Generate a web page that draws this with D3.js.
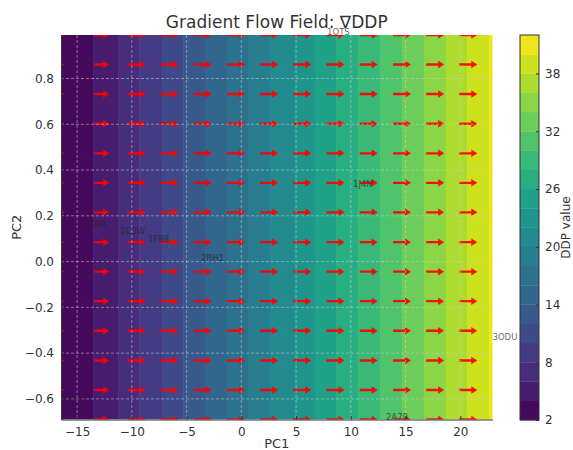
<!DOCTYPE html>
<html>
<head>
<meta charset="utf-8">
<script src="https://cdn.jsdelivr.net/npm/d3@7"></script>
<style>
  body { margin: 0; background: #fff; }
  text { font-family: "DejaVu Sans", sans-serif; }
</style>
</head>
<body>
<div id="chart"></div>
<script>
// Proteins projected on PC1/PC2 (they also set the axis extents)
const proteins = ['1OTS', '1J4N', '4DKL', '1C3W', '1F88', '2RH1', '3ODU', '2A79', '1C17'];
const proteinPC1 = [7.83, 10.20, -14.27, -11.08, -8.52, -3.68, 22.94, 13.21, -16.47];
const proteinPC2 = [0.99, 0.324, 0.150, 0.119, 0.084, 0.001, -0.344, -0.69, -0.628];

// DDP contour levels and the PC1 where the field crosses each level (bands are vertical)
const ddpLevels = [2, 4, 6, 8, 10, 12, 14, 16, 18, 20, 22, 24, 26, 28, 30, 32, 34, 36, 38, 40, 42];
const levelCrossPC1 = [-16.47, -13.52, -11.23, -9.32, -7.27, -5.30, -3.32, -1.33, 0.65, 2.62,
  4.81, 6.73, 8.65, 10.68, 12.67, 14.65, 16.68, 18.67, 20.64, 22.65, 24.6];

// Quiver grid and gradient (dDDP/dPC1 per column, dDDP/dPC2 is ~0)
const quiverX = [-16.47, -13.44, -10.41, -7.38, -4.34, -1.31, 1.72, 4.75, 7.78, 10.81, 13.85, 16.88, 19.91, 22.94];
const quiverY = [-0.69, -0.561, -0.432, -0.302, -0.173, -0.044, 0.085, 0.215, 0.344, 0.473, 0.602, 0.732, 0.861, 0.99];
const gradU = [0.17, 0.83, 1, 1, 1, 1, 1, 1, 1, 1, 1, 1, 1, 1];

// Tick labels
const xTicks = [-15, -10, -5, 0, 5, 10, 15, 20];
const yTicks = [-0.6, -0.4, -0.2, 0.0, 0.2, 0.4, 0.6, 0.8];
const cbarTicks = [2, 8, 14, 20, 26, 32, 38];

const W = 573, H = 450;
const plot = { left: 61, right: 492.5, top: 35, bottom: 419.5 };
const cbar = { left: 520, right: 539, top: 35, bottom: 420 };
const textColor = '#333';

const svg = d3.select('#chart').append('svg')
  .attr('width', W).attr('height', H)
  .style('display', 'block');

const x = d3.scaleLinear().domain(d3.extent(proteinPC1)).range([plot.left, plot.right]);
const y = d3.scaleLinear().domain(d3.extent(proteinPC2)).range([plot.bottom, plot.top]);
const colorOf = v => d3.interpolateViridis((v - ddpLevels[0]) / (ddpLevels[ddpLevels.length - 1] - ddpLevels[0]));

svg.append('clipPath').attr('id', 'plotClip')
  .append('rect')
  .attr('x', plot.left).attr('y', plot.top)
  .attr('width', plot.right - plot.left).attr('height', plot.bottom - plot.top);

const bands = d3.range(ddpLevels.length - 1).map(i => ({
  x0: levelCrossPC1[i], x1: levelCrossPC1[i + 1],
  mid: (ddpLevels[i] + ddpLevels[i + 1]) / 2
}));

// filled contour bands
svg.append('g').attr('clip-path', 'url(#plotClip)')
  .selectAll('rect')
  .data(bands)
  .enter()
  .append('rect')
  .attr('x', d => x(d.x0))
  .attr('y', plot.top)
  .attr('width', d => x(d.x1) - x(d.x0) + 0.5)
  .attr('height', plot.bottom - plot.top)
  .attr('fill', d => colorOf(d.mid));

// quiver arrows
const arrowScale = 18, shaftW = 2.4, headW = 7.5, headL = 6;
function arrowPath(len) {
  const k = Math.min(1, len / (headL * 1.6));
  const sw = shaftW * k, hw = headW * k, hl = headL * k;
  return `M0,${-sw / 2}L${len - hl},${-sw / 2}L${len - hl},${-hw / 2}L${len},0` +
    `L${len - hl},${hw / 2}L${len - hl},${sw / 2}L0,${sw / 2}Z`;
}
const arrows = [];
quiverY.forEach(py => quiverX.forEach((px, j) => arrows.push({ px, py, u: gradU[j] })));

svg.append('g').attr('clip-path', 'url(#plotClip)')
  .selectAll('path')
  .data(arrows)
  .enter()
  .append('path')
  .attr('transform', d => `translate(${x(d.px)},${y(d.py)})`)
  .attr('d', d => arrowPath(d.u * arrowScale))
  .attr('fill', '#ff0000')
  .attr('fill-opacity', 0.92);

// grid
const grid = svg.append('g')
  .attr('stroke', '#d0d0d0')
  .attr('stroke-opacity', 0.65)
  .attr('stroke-width', 0.8)
  .attr('stroke-dasharray', '3,2');
grid.selectAll('.gx').data(xTicks).enter().append('line')
  .attr('x1', d => x(d)).attr('x2', d => x(d))
  .attr('y1', plot.top).attr('y2', plot.bottom);
grid.selectAll('.gy').data(yTicks).enter().append('line')
  .attr('x1', plot.left).attr('x2', plot.right)
  .attr('y1', d => y(d)).attr('y2', d => y(d));

// protein labels
svg.append('g')
  .selectAll('text')
  .data(proteins)
  .enter()
  .append('text')
  .attr('x', (d, i) => x(proteinPC1[i]))
  .attr('y', (d, i) => y(proteinPC2[i]))
  .attr('font-size', 8.5)
  .attr('fill', '#222')
  .attr('fill-opacity', 0.7)
  .text(d => d);

// axes (ticks point inward)
const xAxis = svg.append('g')
  .attr('transform', `translate(0,${plot.bottom})`)
  .call(d3.axisBottom(x).tickValues(xTicks).tickFormat(d3.format('d')).tickSizeInner(-3.5).tickSizeOuter(0).tickPadding(8));
const yAxis = svg.append('g')
  .attr('transform', `translate(${plot.left},0)`)
  .call(d3.axisLeft(y).tickValues(yTicks).tickFormat(d3.format('.1f')).tickSizeInner(-3.5).tickSizeOuter(0).tickPadding(7));
[xAxis, yAxis].forEach(a => {
  a.selectAll('text').attr('font-size', 12).attr('fill', textColor).style('font-family', '"DejaVu Sans", sans-serif');
  a.selectAll('line').attr('stroke', textColor);
  a.select('.domain').attr('stroke', textColor);
});

// titles
svg.append('text')
  .attr('x', (plot.left + plot.right) / 2).attr('y', 28)
  .attr('text-anchor', 'middle').attr('font-size', 17).attr('fill', textColor)
  .text('Gradient Flow Field: ∇DDP');
svg.append('text')
  .attr('x', (plot.left + plot.right) / 2).attr('y', 448)
  .attr('text-anchor', 'middle').attr('font-size', 13).attr('fill', textColor)
  .text('PC1');
svg.append('text')
  .attr('transform', `translate(21,${(plot.top + plot.bottom) / 2}) rotate(-90)`)
  .attr('text-anchor', 'middle').attr('font-size', 13).attr('fill', textColor)
  .text('PC2');

// colorbar
const c = d3.scaleLinear()
  .domain([ddpLevels[0], ddpLevels[ddpLevels.length - 1]])
  .range([cbar.bottom, cbar.top]);
const cb = svg.append('g');
cb.selectAll('rect')
  .data(bands)
  .enter()
  .append('rect')
  .attr('x', cbar.left)
  .attr('y', d => c(d.mid + 1))
  .attr('width', cbar.right - cbar.left)
  .attr('height', d => c(d.mid - 1) - c(d.mid + 1) + 0.3)
  .attr('fill', d => colorOf(d.mid));
cb.append('rect')
  .attr('x', cbar.left).attr('y', cbar.top)
  .attr('width', cbar.right - cbar.left).attr('height', cbar.bottom - cbar.top)
  .attr('fill', 'none').attr('stroke', textColor).attr('stroke-width', 1);
const cAxis = svg.append('g')
  .attr('transform', `translate(${cbar.right},0)`)
  .call(d3.axisRight(c).tickValues(cbarTicks).tickSizeInner(-3).tickSizeOuter(0).tickPadding(6));
cAxis.select('.domain').remove();
cAxis.selectAll('text').attr('font-size', 12).attr('fill', textColor).style('font-family', '"DejaVu Sans", sans-serif');
cAxis.selectAll('line').attr('stroke', textColor);
svg.append('text')
  .attr('transform', `translate(570,${(cbar.top + cbar.bottom) / 2}) rotate(-90)`)
  .attr('text-anchor', 'middle').attr('font-size', 12).attr('fill', textColor)
  .text('DDP value');
</script>
</body>
</html>
